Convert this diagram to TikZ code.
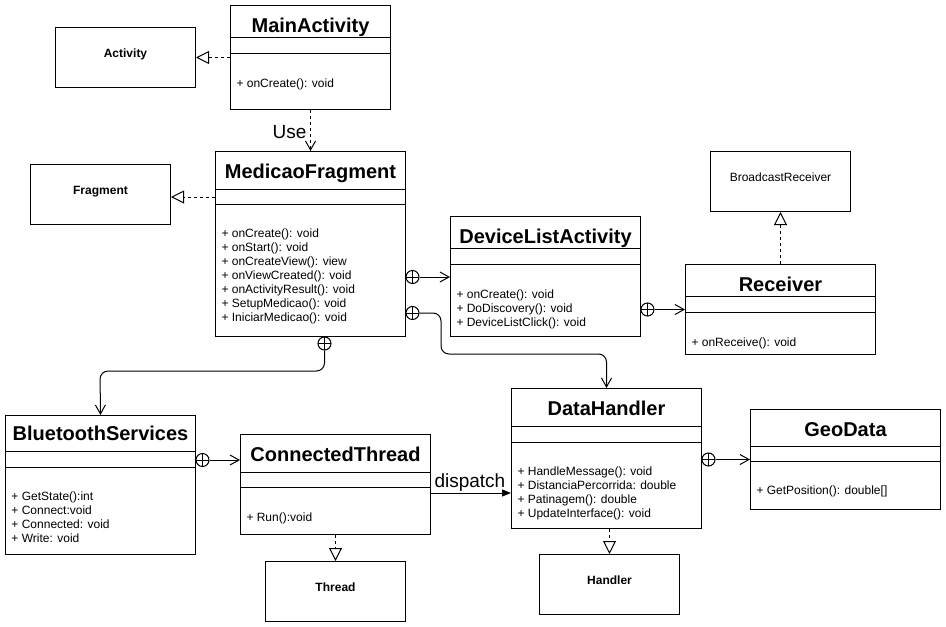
\documentclass[tikz,border=0pt]{standalone}
\usepackage{fontspec}
\setmainfont{Liberation Sans}
\usetikzlibrary{arrows.meta,calc}
\newcommand\mysepline[3]{%
  \draw ($(#1.north west)+(0,#2)$) -- ($(#1.north east)+(0,#2)$);
  \draw ($(#1.north west)+(0,#3)$) -- ($(#1.north east)+(0,#3)$);}
\newcommand\mymeths[4]{%
  \foreach \t [count=\i] in {#4} {\node[meth] (#1-m\i) at ($(#1.north west)+(#2,#3+14*\i-14)$) {\t};}}
\begin{document}
\begin{tikzpicture}[x=1pt,y=-1pt,line width=1pt,
  cbox/.style={draw, rectangle, inner sep=0pt, anchor=north west},
  ctitle/.style={font=\fontsize{20}{24}\selectfont\bfseries, anchor=base, inner sep=0pt},
  meth/.style={font=\fontsize{12}{14}\selectfont, anchor=base west, inner sep=0pt},
  lbl/.style={font=\fontsize{12}{14}\selectfont\bfseries, anchor=base, inner sep=0pt},
  plainlbl/.style={font=\fontsize{12}{14}\selectfont, anchor=base, inner sep=0pt},
  biglbl/.style={font=\fontsize{19}{22}\selectfont, inner sep=0pt},
  cplus/.style={draw, circle, minimum size=13pt, inner sep=0pt, fill=white,
    path picture={\draw (path picture bounding box.north) -- (path picture bounding box.south)
      (path picture bounding box.west) -- (path picture bounding box.east);}},
  assoc/.style={-{Straight Barb[length=9pt,width=10pt]}},
  realize/.style={dash pattern=on 3pt off 3pt, -{Triangle[open,length=13pt,width=13pt,fill=white]}},
  usedep/.style={dash pattern=on 3pt off 3pt, -{Straight Barb[length=9pt,width=10pt]}},
  disp/.style={-{Triangle[length=9pt,width=7pt]}}]
\fill[white] (0,0) rectangle (946,627);
\path[use as bounding box] (0,0) rectangle (946,627);

% classes
\node[cbox, minimum width=160pt, minimum height=104pt] (ma) at (230,5) {};
\mysepline{ma}{32}{48}
\node[ctitle] (ma-t) at ($(ma.north)+(0,27)$) {MainActivity};
\mymeths{ma}{6}{82}{+ onCreate(): void}

\node[cbox, minimum width=140pt, minimum height=60pt] (act) at (55,27) {};
\node[lbl] (act-t) at ($(act.north)+(0,30.5)$) {Activity};

\node[cbox, minimum width=190pt, minimum height=185pt] (mf) at (215,151) {};
\mysepline{mf}{38}{53}
\node[ctitle] (mf-t) at ($(mf.north)+(0,27)$) {MedicaoFragment};
\mymeths{mf}{6}{86}{+ onCreate(): void,+ onStart(): void,+ onCreateView(): view,+ onViewCreated(): void,+ onActivityResult(): void,+ SetupMedicao(): void,+ IniciarMedicao(): void}

\node[cbox, minimum width=140pt, minimum height=60pt] (frag) at (30,164) {};
\node[lbl] (frag-t) at ($(frag.north)+(0,30.5)$) {Fragment};

\node[cbox, minimum width=190pt, minimum height=120pt] (dla) at (450,216) {};
\mysepline{dla}{32}{48}
\node[ctitle] (dla-t) at ($(dla.north)+(0,27)$) {DeviceListActivity};
\mymeths{dla}{6}{82}{+ onCreate(): void,+ DoDiscovery(): void,+ DeviceListClick(): void}

\node[cbox, minimum width=190pt, minimum height=90pt] (rec) at (685,264) {};
\mysepline{rec}{32}{48}
\node[ctitle] (rec-t) at ($(rec.north)+(0,27)$) {Receiver};
\mymeths{rec}{6}{82}{+ onReceive(): void}

\node[cbox, minimum width=140pt, minimum height=60pt] (br) at (710,151) {};
\node[plainlbl] (br-t) at ($(br.north)+(0,30.5)$) {BroadcastReceiver};

\node[cbox, minimum width=190pt, minimum height=139pt] (bs) at (5,415) {};
\mysepline{bs}{36}{52}
\node[ctitle] (bs-t) at ($(bs.north)+(0,25.5)$) {BluetoothServices};
\mymeths{bs}{6}{85}{+ GetState():int,+ Connect:void,+ Connected: void,+ Write: void}

\node[cbox, minimum width=190pt, minimum height=100pt] (ct) at (240,434) {};
\mysepline{ct}{38}{53}
\node[ctitle] (ct-t) at ($(ct.north)+(0,27)$) {ConnectedThread};
\mymeths{ct}{6}{87}{+ Run():void}

\node[cbox, minimum width=140pt, minimum height=60pt] (th) at (265,561) {};
\node[lbl] (th-t) at ($(th.north)+(0,30.5)$) {Thread};

\node[cbox, minimum width=190pt, minimum height=140pt] (dh) at (511,388) {};
\mysepline{dh}{38}{54}
\node[ctitle] (dh-t) at ($(dh.north)+(0,27)$) {DataHandler};
\mymeths{dh}{6}{87}{+ HandleMessage(): void,+ DistanciaPercorrida: double,+ Patinagem(): double,+ UpdateInterface(): void}

\node[cbox, minimum width=140pt, minimum height=60pt] (hd) at (539,554) {};
\node[lbl] (hd-t) at ($(hd.north)+(0,30.5)$) {Handler};

\node[cbox, minimum width=190pt, minimum height=100pt] (geo) at (750,409) {};
\mysepline{geo}{37}{52}
\node[ctitle] (geo-t) at ($(geo.north)+(0,27)$) {GeoData};
\mymeths{geo}{6}{85}{+ GetPosition(): double[]}

% connectors
\draw[realize] (ma.west |- act.east) -- (act.east);
\draw[usedep] (ma.south) -- (mf.north);
\node[biglbl, anchor=base east] (use) at (307,138) {Use};
\coordinate (f0) at ($(mf.north west)+(0,46)$);
\draw[realize] (f0) -- (f0 -| frag.east);

\node[cplus] (c1) at ($(mf.north east)+(6.5,126)$) {};
\draw[assoc] (c1.east) -- (c1.east -| dla.west);

\node[cplus] (c2) at ($(mf.north east)+(6.5,162)$) {};
\coordinate (k1) at (441,354);
\draw[assoc, rounded corners=8pt] (c2.east) -| (k1) -| (dh.north);

\node[cplus] (c3) at ($(dla.east |- rec.west)+(6.5,0)$) {};
\draw[assoc] (c3.east) -- (rec.west);
\draw[realize] (rec.north) -- (br.south);

\node[cplus] (c4) at ($(mf.south)+(14,6.5)$) {};
\coordinate (k2) at (100,371);
\draw[assoc, rounded corners=8pt] (c4.south) |- (k2) -- (bs.north);

\node[cplus] (c5) at ($(bs.north east)+(6.5,45)$) {};
\draw[assoc] (c5.east) -- (c5.east -| ct.west);
\draw[realize] (ct.south) -- (th.north);

\coordinate (d0) at ($(ct.north east)+(0,59)$);
\draw[disp] (d0) -- (d0 -| dh.west);
\node[biglbl, anchor=base west] (disp) at (434,487) {dispatch};

\draw[realize] (dh.south -| hd.north) -- (hd.north);

\node[cplus] (c6) at ($(dh.east |- geo.west)+(6.5,0)$) {};
\draw[assoc] (c6.east) -- (geo.west);
\end{tikzpicture}
\end{document}
